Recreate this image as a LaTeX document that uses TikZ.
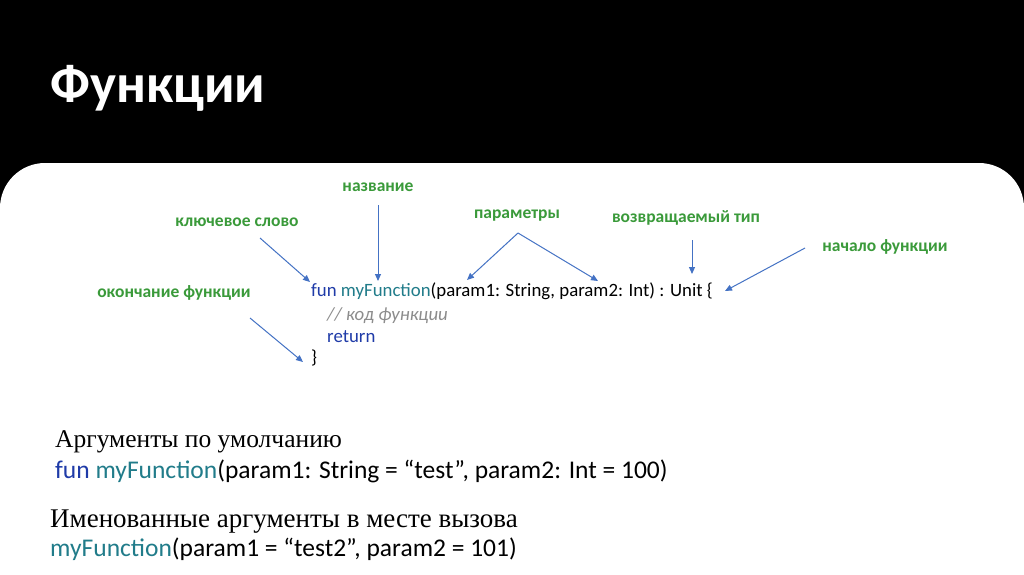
\documentclass[tikz,border=0pt]{standalone}
\usepackage{fontspec}
\setmainfont{Liberation Serif}
\newfontfamily\carl{Carlito}
\usetikzlibrary{arrows.meta}
\definecolor{lblgreen}{HTML}{3A9A3A}
\definecolor{arrblue}{HTML}{4472C4}
\definecolor{kwblue}{HTML}{1F3BA8}
\definecolor{fnteal}{HTML}{217C8A}
\definecolor{cmtgray}{HTML}{8C8C8C}
\tikzset{
  lbl/.style={font=\carl\bfseries\fontsize{17.5}{20}\selectfont, text=lblgreen, inner sep=0pt},
  code/.style={font=\carl\fontsize{18.8}{22}\selectfont, anchor=base west, inner sep=0pt},
  big/.style={font=\carl\fontsize{25.5}{29}\selectfont, anchor=base west, inner sep=0pt},
  serif/.style={font=\fontsize{25.5}{29}\selectfont, anchor=base west, inner sep=0pt},
  arr/.style={draw=arrblue, line width=1pt, -{Triangle[width=6pt,length=7pt]}}
}
\begin{document}
\begin{tikzpicture}[x=1pt,y=-1pt]
\fill[black] (0,0) rectangle (1024,574);
\useasboundingbox (0,0) rectangle (1024,574);
\fill[white, rounded corners=45pt] (0,163) rectangle (1024,700);
\node[anchor=base west, inner sep=0pt, text=white, font=\carl\bfseries\fontsize{55}{60}\selectfont] (title) at (50,102) {Функции};

% labels
\node[lbl] (nazv) at (378,187) {название};
\node[lbl] (kw) at (237,222) {ключевое слово};
\node[lbl] (par) at (517,216) {параметры};
\node[lbl] (ret) at (686,218) {возвращаемый тип};
\node[lbl] (beg) at (885,247) {начало функции};
\node[lbl] (end) at (174,293) {окончание функции};

% code
\node[code] (l1) at (311,296) {\textcolor{kwblue}{fun} \textcolor{fnteal}{myFunction}(param1: String, param2: Int) : Unit \{};
\node[code, text=cmtgray] (l2) at (327,320) {\itshape // код функции};
\node[code, text=kwblue] (l3) at (327,342) {return};
\node[code] (l4) at (311,363) {\}};

% arrow coordinates
\coordinate (a1s) at (378,205); \coordinate (a1e) at (378,281);
\coordinate (a2s) at (260,238); \coordinate (a2e) at (310,282);
\coordinate (a3s) at (518,233); \coordinate (a3e) at (467,280); \coordinate (a3f) at (598,281);
\coordinate (a4s) at (692,240); \coordinate (a4e) at (692,274);
\coordinate (a5s) at (805,248); \coordinate (a5e) at (725,291);
\coordinate (a6s) at (250,318); \coordinate (a6e) at (303,362);
\draw[arr] (a1s) -- (a1e);
\draw[arr] (a2s) -- (a2e);
\draw[arr] (a3s) -- (a3e);
\draw[arr] (a3s) -- (a3f);
\draw[arr] (a4s) -- (a4e);
\draw[arr] (a5s) -- (a5e);
\draw[arr] (a6s) -- (a6e);

% bottom
\node[serif] (h1) at (55,447) {Аргументы по умолчанию};
\node[big] (c1) at (55,478) {\textcolor{kwblue}{fun} \textcolor{fnteal}{myFunction}(param1: String = “test”, param2: Int = 100)};
\node[serif, font=\fontsize{27}{30}\selectfont] (h2) at (50,527) {Именованные аргументы в месте вызова};
\node[big] (c2) at (50,556) {\textcolor{fnteal}{myFunction}(param1 = “test2”, param2 = 101)};
\end{tikzpicture}
\end{document}
